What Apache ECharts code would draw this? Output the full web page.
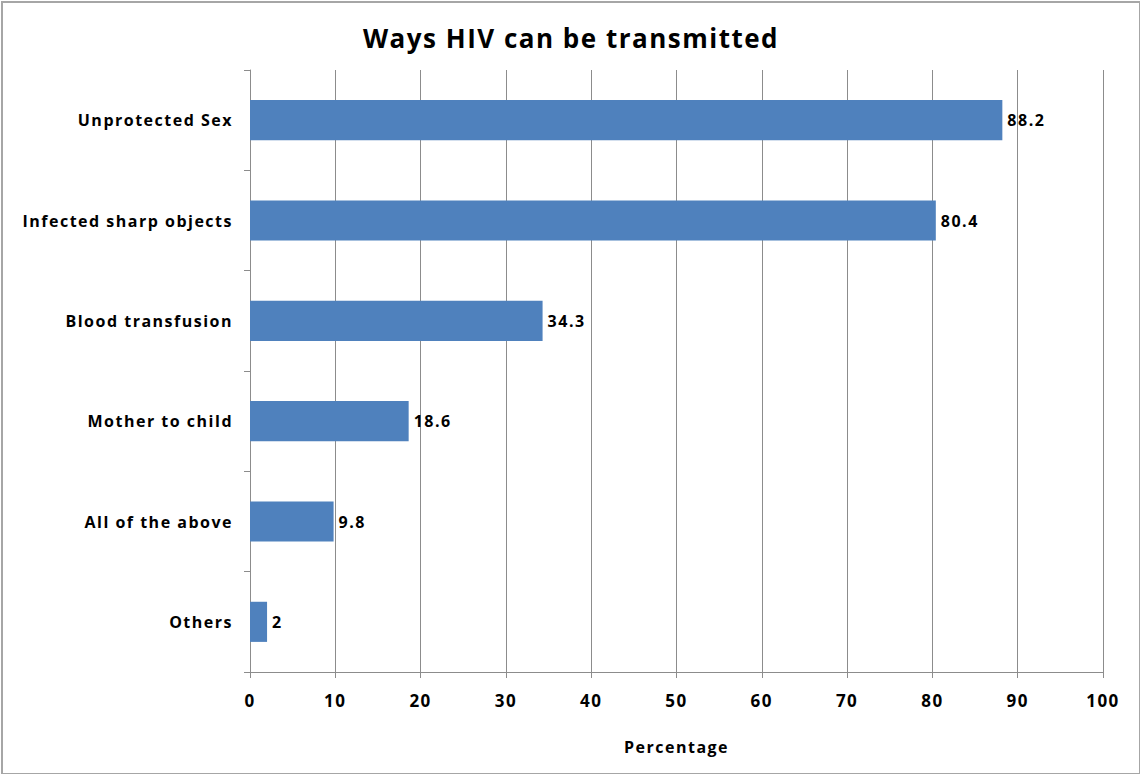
<!DOCTYPE html>
<html>
<head>
<meta charset="utf-8">
<script src="https://cdn.jsdelivr.net/npm/echarts@6/dist/echarts.min.js"></script>
<style>
  html, body { margin: 0; padding: 0; background: #fff; }
  #chart { position: absolute; left: 1px; top: 1px; width: 1136px; height: 770px; border: 2px solid #a6a6a6; }
  /* the original uses loosely tracked text */
  #chart text { letter-spacing: 1.5px; }
</style>
</head>
<body>
<div id="chart"></div>
<script>
const categories = ['Unprotected Sex', 'Infected sharp objects', 'Blood transfusion', 'Mother to child', 'All of the above', 'Others']
const values = [88.2, 80.4, 34.3, 18.6, 9.8, 2]

const FONT = '"Open Sans", "Liberation Sans", sans-serif'

const chart = echarts.init(document.getElementById('chart'), null, { renderer: 'svg' })

chart.setOption({
  animation: false,
  title: {
    text: 'Ways HIV can be transmitted',
    left: 'center',
    top: 17,
    textStyle: { fontFamily: FONT, fontSize: 26, fontWeight: 'bold', color: '#000' },
  },
  grid: { left: 247, right: 36, top: 67, bottom: 101 },
  xAxis: {
    type: 'value',
    min: 0,
    max: 100,
    interval: 10,
    name: 'Percentage',
    nameLocation: 'middle',
    nameGap: 67,
    nameTextStyle: { fontFamily: FONT, fontSize: 16, fontWeight: 'bold', color: '#000' },
    axisLine: { show: true, lineStyle: { color: '#8c8c8c', width: 1 } },
    axisTick: { show: true, length: 6, lineStyle: { color: '#8c8c8c' } },
    axisLabel: { fontFamily: FONT, fontSize: 17, fontWeight: 'bold', color: '#000', margin: 20 },
    splitLine: { show: true, lineStyle: { color: '#8c8c8c', width: 1 } },
  },
  yAxis: {
    type: 'category',
    data: categories,
    inverse: true,
    axisLine: { show: true, lineStyle: { color: '#8c8c8c', width: 1 } },
    axisTick: { show: true, length: 6, lineStyle: { color: '#8c8c8c' } },
    axisLabel: { fontFamily: FONT, fontSize: 16, fontWeight: 'bold', color: '#000', margin: 17 },
  },
  series: [{
    type: 'bar',
    data: values,
    barCategoryGap: '60%',
    itemStyle: { color: '#4F81BD' },
    label: {
      show: true,
      position: 'right',
      distance: 5,
      fontFamily: FONT,
      fontSize: 16,
      fontWeight: 'bold',
      color: '#000',
    },
  }],
})
</script>
</body>
</html>
